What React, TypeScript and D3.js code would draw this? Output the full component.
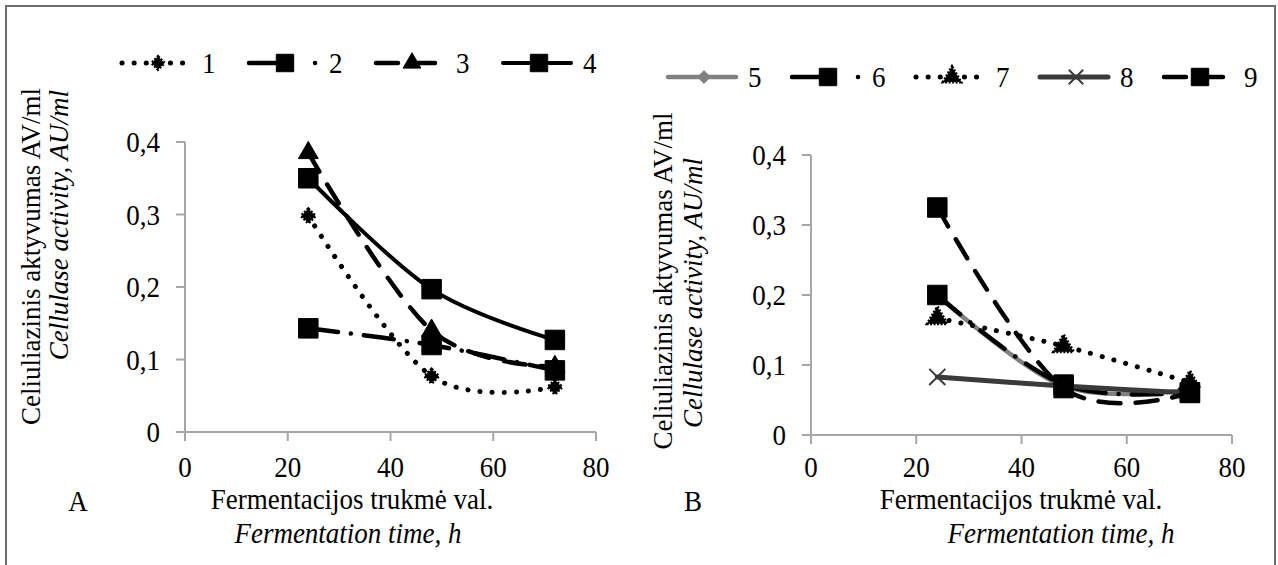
import React from 'react';
import * as d3 from 'd3';

// Fermentation time, h
const times = [24, 48, 72];

// Panel A series (cellulase activity, AU/ml)
const series1 = [0.298, 0.077, 0.062];
const series2 = [0.143, 0.12, 0.085];
const series3 = [0.385, 0.14, 0.09];
const series4 = [0.35, 0.197, 0.127];

// Panel B series
const series5 = [0.2, 0.07, 0.065];
const series6 = [0.2, 0.072, 0.061];
const series7 = [0.167, 0.127, 0.075];
const series8 = [0.083, 0.07, 0.06];
const series9 = [0.325, 0.067, 0.06];

const xTicks = [0, 20, 40, 60, 80];
const yTicks = [0, 0.1, 0.2, 0.3, 0.4];

const yTitle1 = 'Celiuliazinis aktyvumas AV/ml';
const yTitle2 = 'Cellulase activity, AU/ml';
const xTitle1 = 'Fermentacijos trukmė val.';
const xTitle2 = 'Fermentation time, h';

const FONT = '"Liberation Serif", "Times New Roman", serif';
const AXIS = '#a6a6a6';
const FS = 27;

type Style = {
  name: string;
  values: number[];
  color: string;
  width: number;
  dash?: string;
  legendDash?: string;
  marker: 'diamond' | 'square' | 'triangle' | 'x';
  markerDash?: string;
  markerSize?: number;
};

const styleA: Style[] = [
  { name: '1', values: series1, color: '#000', width: 5, dash: '0.1 12', marker: 'diamond', markerDash: '2 1.5', markerSize: 130 },
  { name: '2', values: series2, color: '#000', width: 4.5, dash: '30 13 0.1 13', legendDash: '34 32 0.1 20', marker: 'square' },
  { name: '3', values: series3, color: '#000', width: 4.5, dash: '22 15', marker: 'triangle', markerSize: 170 },
  { name: '4', values: series4, color: '#000', width: 4, marker: 'square' },
];

const styleB: Style[] = [
  { name: '5', values: series5, color: '#808080', width: 4.5, marker: 'diamond', markerSize: 130 },
  { name: '6', values: series6, color: '#000', width: 4.5, dash: '30 13 0.1 13', legendDash: '34 32 0.1 20', marker: 'square' },
  { name: '7', values: series7, color: '#000', width: 5, dash: '0.1 12', marker: 'triangle', markerDash: '2 1.5', markerSize: 170 },
  { name: '8', values: series8, color: '#3a3a3a', width: 5, marker: 'x' },
  { name: '9', values: series9, color: '#000', width: 4.5, dash: '22 15', marker: 'square' },
];

const fmt = (t: number) => (t === 0 ? '0' : t.toFixed(1).replace('.', ','));

const symbolPath = (s: Style, big: boolean) => {
  const k = big ? 1 : 0.8;
  if (s.marker === 'square') return d3.symbol(d3.symbolSquare, 380 * k)()!;
  if (s.marker === 'triangle') return d3.symbol(d3.symbolTriangle, (s.markerSize || 160) * k)()!;
  if (s.marker === 'diamond') return d3.symbol(d3.symbolDiamond2, (s.markerSize || 90) * k)()!;
  return d3.symbol(d3.symbolX, 170 * k)()!;
};

const Marker = ({ s, x, y, big }: { s: Style; x: number; y: number; big: boolean }) => {
  const isX = s.marker === 'x';
  return (
    <path
      d={symbolPath(s, big)}
      transform={`translate(${x},${y})`}
      fill={isX ? 'none' : s.color}
      stroke={s.color}
      strokeWidth={isX ? 2 : s.markerDash ? 3 : 1}
      strokeDasharray={s.markerDash}
    />
  );
};

// text slightly stretched vertically, like the reference scan
const T = ({ x, y, anchor = 'start', italic = false, children }: any) => (
  <text
    transform={`translate(${x},${y}) scale(1,1.1)`}
    textAnchor={anchor}
    fontSize={FS}
    fontStyle={italic ? 'italic' : 'normal'}
  >
    {children}
  </text>
);

type PanelProps = {
  data: Style[];
  x0: number;
  x1: number;
  y0: number;
  y1: number;
  legendX: number;
  legendY: number;
  legendPitch: number;
  letter: string;
  letterX: number;
  yTitleX: number[];
  yTitleY: number[];
  yTitleAnchor: string;
  xTitleCx: number[];
};

const Panel = (p: PanelProps) => {
  const x = d3.scaleLinear().domain([0, 80]).range([p.x0, p.x1]);
  const y = d3.scaleLinear().domain([0, 0.4]).range([p.y0, p.y1]);
  const line = d3
    .line<number>()
    .x((_, i) => x(times[i]))
    .y((d) => y(d))
    .curve(d3.curveCatmullRom.alpha(0));

  return (
    <g fontFamily={FONT} fill="#000">
      {/* axes */}
      <line x1={p.x0} x2={p.x0} y1={y(0)} y2={y(0.4)} stroke={AXIS} strokeWidth={2} />
      <line x1={p.x0} x2={p.x1} y1={y(0)} y2={y(0)} stroke={AXIS} strokeWidth={2} />
      {yTicks.map((t) => (
        <g key={'y' + t}>
          <line x1={p.x0 - 9} x2={p.x0} y1={y(t)} y2={y(t)} stroke={AXIS} strokeWidth={2} />
          <T x={p.x0 - 25} y={y(t) + 10} anchor="end">
            {fmt(t)}
          </T>
        </g>
      ))}
      {xTicks.map((t) => (
        <g key={'x' + t}>
          <line x1={x(t)} x2={x(t)} y1={y(0)} y2={y(0) + 9} stroke={AXIS} strokeWidth={2} />
          <T x={x(t)} y={477} anchor="middle">
            {t}
          </T>
        </g>
      ))}

      {/* series */}
      {p.data.map((s) => (
        <g key={s.name}>
          <path
            d={line(s.values)!}
            fill="none"
            stroke={s.color}
            strokeWidth={s.width}
            strokeDasharray={s.dash}
            strokeLinecap="round"
          />
          {s.values.map((v, i) => (
            <Marker key={i} s={s} x={x(times[i])} y={y(v)} big />
          ))}
        </g>
      ))}

      {/* legend */}
      {p.data.map((s, i) => {
        const lx = p.legendX + i * p.legendPitch;
        return (
          <g key={'lg' + s.name}>
            <line
              x1={lx}
              x2={lx + 68}
              y1={p.legendY}
              y2={p.legendY}
              stroke={s.color}
              strokeWidth={s.width}
              strokeDasharray={s.legendDash || s.dash}
              strokeLinecap="round"
            />
            <Marker s={s} x={lx + 36} y={p.legendY} big={false} />
            <T x={lx + 80} y={p.legendY + 10}>
              {s.name}
            </T>
          </g>
        );
      })}

      {/* axis titles */}
      <text
        transform={`translate(${p.yTitleX[0]},${p.yTitleY[0]}) rotate(-90)`}
        textAnchor={p.yTitleAnchor}
        fontSize={FS}
      >
        {yTitle1}
      </text>
      <text
        transform={`translate(${p.yTitleX[1]},${p.yTitleY[1]}) rotate(-90)`}
        textAnchor={p.yTitleAnchor}
        fontSize={FS}
        fontStyle="italic"
      >
        {yTitle2}
      </text>
      <T x={p.xTitleCx[0]} y={509} anchor="middle">
        {xTitle1}
      </T>
      <T x={p.xTitleCx[1]} y={543} anchor="middle" italic>
        {xTitle2}
      </T>
      <T x={p.letterX} y={511} anchor="middle">
        {p.letter}
      </T>
    </g>
  );
};

const App = () => {
  return (
    <div style={{ position: 'absolute', left: 0, top: 0 }}>
      <svg width={1278} height={565} style={{ display: 'block', background: '#fff' }}>
        <rect x={6} y={6} width={1269} height={600} fill="none" stroke="#6e6e6e" strokeWidth={2} />
        <Panel
          data={styleA}
          x0={185}
          x1={596}
          y0={432}
          y1={142}
          legendX={122}
          legendY={63}
          legendPitch={127}
          letter="A"
          letterX={78}
          yTitleX={[40, 68]}
          yTitleY={[88, 90]}
          yTitleAnchor="end"
          xTitleCx={[352, 348]}
        />
        <Panel
          data={styleB}
          x0={811}
          x1={1232}
          y0={435}
          y1={155}
          legendX={668}
          legendY={77}
          legendPitch={124}
          letter="B"
          letterX={693}
          yTitleX={[672, 702]}
          yTitleY={[281, 293]}
          yTitleAnchor="middle"
          xTitleCx={[1021, 1061]}
        />
      </svg>
    </div>
  );
};

export default App;
